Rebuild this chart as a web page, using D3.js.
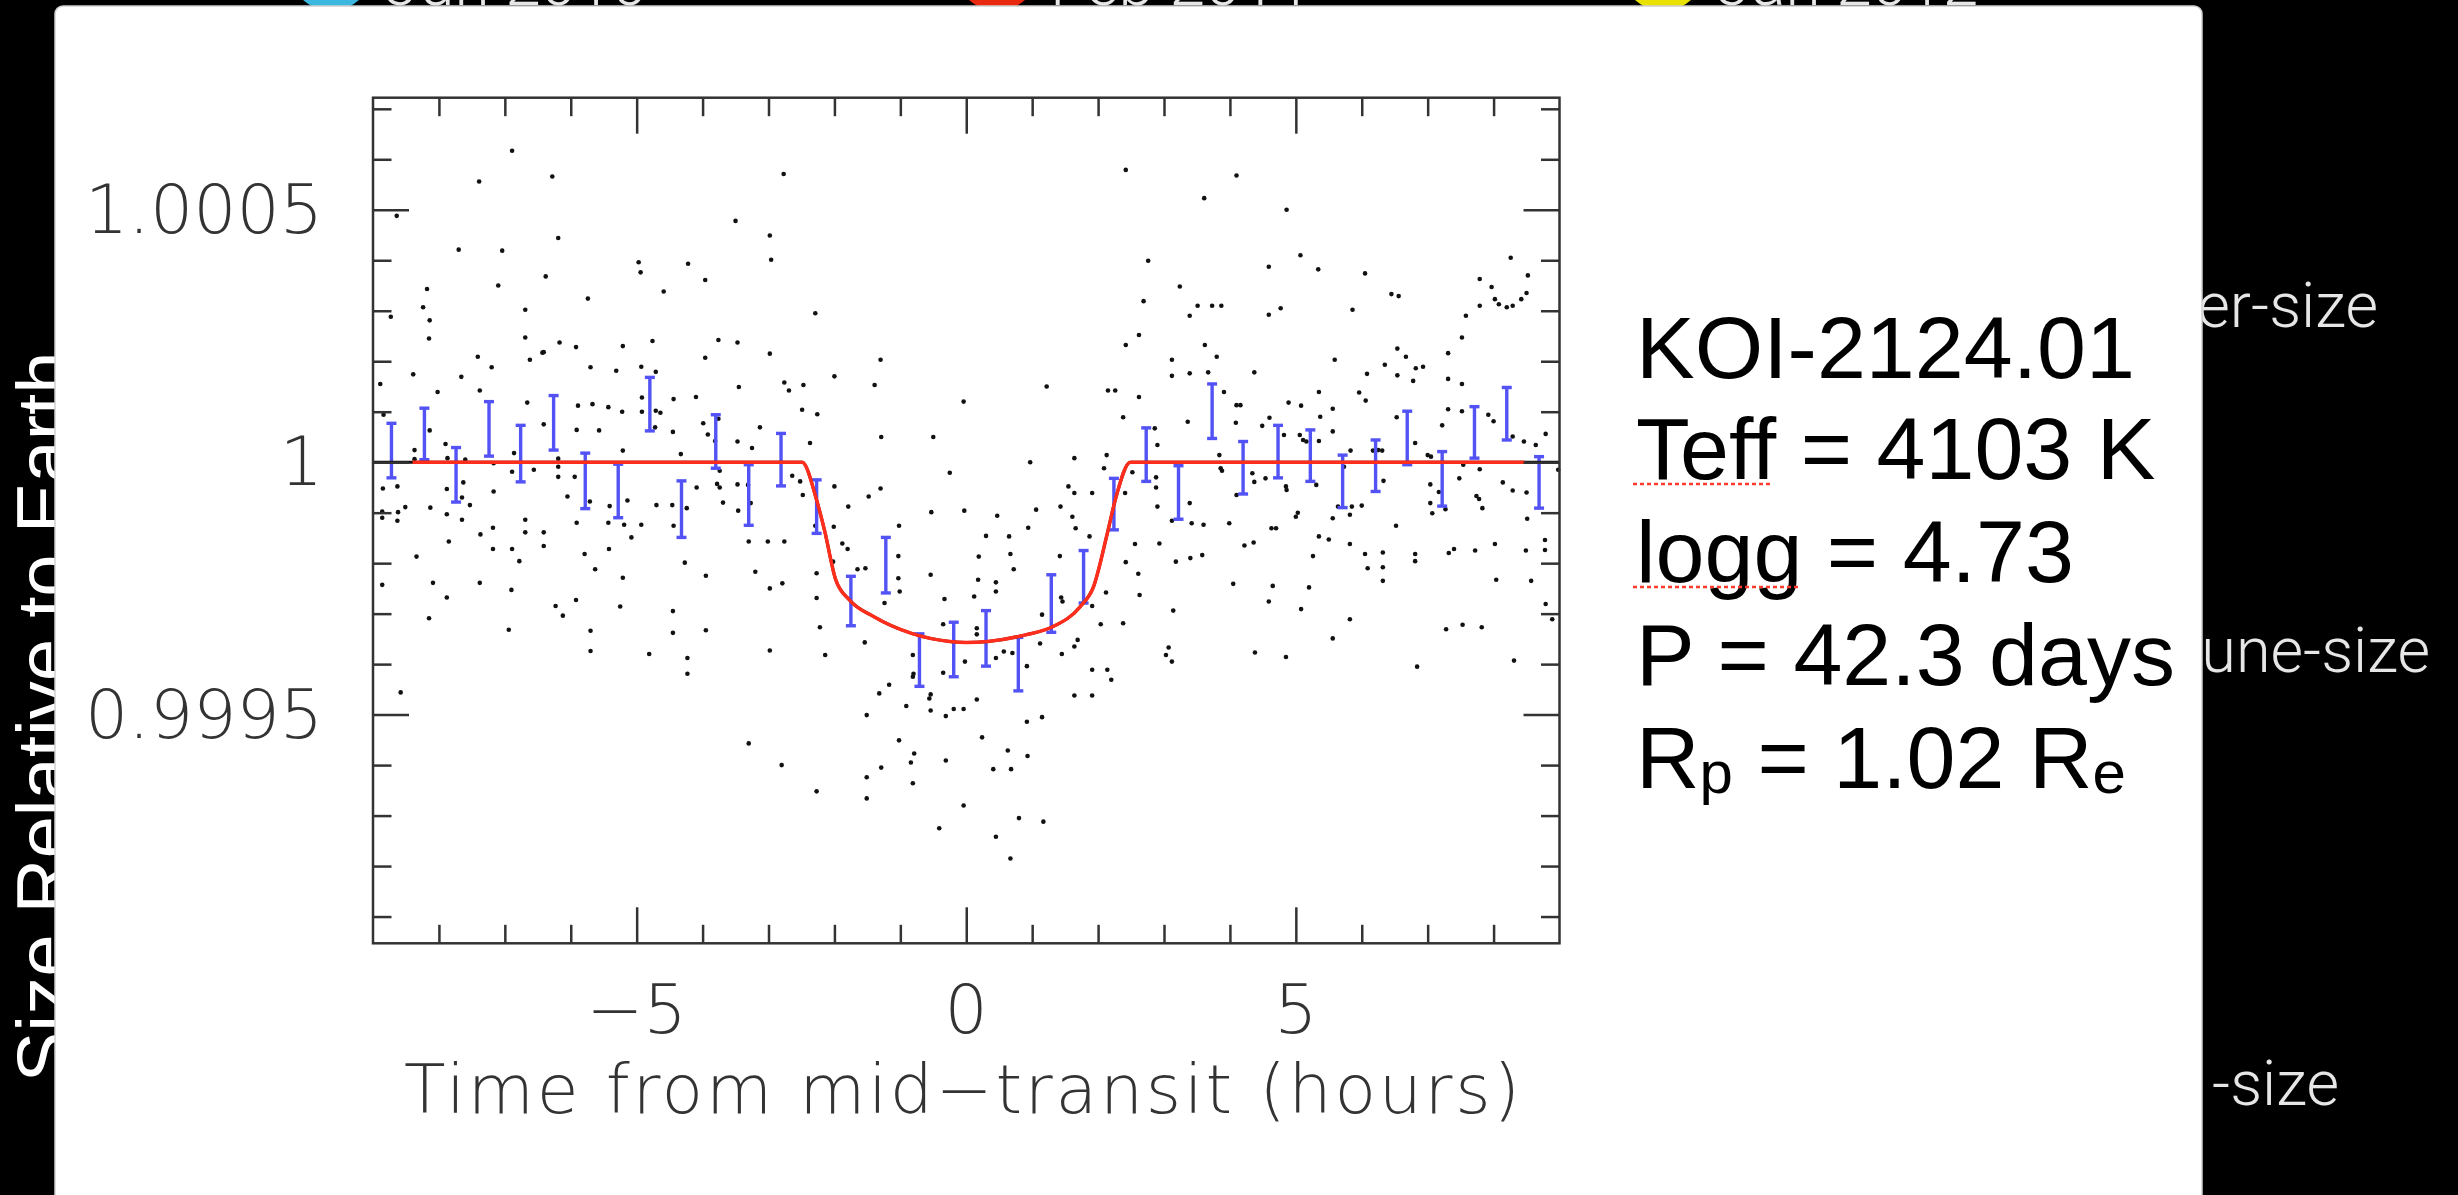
<!DOCTYPE html>
<meta charset="utf-8">
<head>
    <script type="text/javascript" src="https://cdn.jsdelivr.net/npm/d3@7"></script>
    <style>
        body { margin: 0; background: #000; }
        svg { display: block; }
        .tick-label { font-family: "DejaVu Sans"; font-weight: 200; font-size: 68px; fill: #333; }
        .info { font-family: "Liberation Sans", Arial, sans-serif; font-size: 88px; fill: #000; }
        .slide { font-family: "Liberation Sans", Arial, sans-serif; fill: #fff; }
        .slide-light { font-family: Roboto, "Liberation Sans", sans-serif; font-weight: 300; fill: #e6e6e6; }
    </style>
</head>
<body>
<div id="chart"></div>
<script>

    // binned light curve: time (hours), flux offset from 1 (ppm), half error bar (ppm)
    let binTime = [-8.72, -8.22, -7.74, -7.24, -6.76, -6.26, -5.78, -5.28, -4.80, -4.32, -3.80, -3.30,
        -2.81, -2.27, -1.75, -1.22, -0.71, -0.19, 0.30, 0.79, 1.29, 1.78, 2.24, 2.73,
        3.22, 3.73, 4.20, 4.73, 5.22, 5.71, 6.21, 6.69, 7.22, 7.71, 8.20, 8.69]
    let binPpm = [23, 56, -25, 66, 17, 78, -37, -57, 115, -93, 41, -65,
        5, -88, -275, -204, -392, -371, -349, -400, -280, -227, -83, 15,
        -60, 101, -11, 21, 13, -38, -7, 48, -33, 59, 96, -40]
    let binErr = [54, 51, 54, 54, 56, 54, 55, 53, 53, 56, 53, 60,
        52, 53, 49, 55, 52, 54, 55, 53, 57, 52, 51, 53,
        53, 54, 52, 52, 51, 52, 51, 53, 54, 51, 52, 51]

    // transit model (hours, ppm)
    let modelTime = [-9, -2.49, -2.27, -2.15, -1.98, -1.77, -1.40, -0.83, -0.25, 0, 0.33, 0.90, 1.31, 1.73, 1.93, 2.14, 2.26, 2.49, 9]
    let modelPpm = [0, 0, -75, -135, -233, -273, -306, -339, -355, -357, -355, -342, -326, -286, -247, -141, -75, 0, 0]
    let modelRedRange = [-8.4, 8.47]

    // unbinned photometry [hours, ppm]
    let rawPoints = [
        [-8.64,488],[-6.89,617],[-7.39,556],[-6.28,566],[-7.70,421],[-7.04,419],[-6.19,444],[-4.97,396],[-4.94,376],[-4.22,393],
        [-8.18,343],[-7.10,350],[-6.38,368],[-5.74,324],[-4.59,338],[-8.24,307],[-8.73,288],[-8.14,281],[-6.69,302],[-8.15,245],
        [-6.69,247],[-6.17,237],[-5.92,228],[-5.21,230],[-4.76,240],[-7.41,209],[-7.20,188],[-6.62,203],[-6.43,217],[-6.41,218],
        [-5.70,188],[-5.31,181],[-4.93,189],[-4.71,179],[-8.89,155],[-8.39,174],[-7.66,169],[-8.02,139],[-7.38,142],[-6.66,118],
        [-5.89,112],[-5.67,115],[-5.43,109],[-4.44,125],[-4.10,129],[-5.22,100],[-4.92,128],[-4.92,100],[-4.71,102],[-4.64,98],
        [-4.72,69],[-8.84,94],[-6.41,75],[-5.91,64],[-5.57,63],[-4.45,60],[-8.14,63],[-8.37,24],[-7.90,36],[-8.37,6],
        [-7.87,8],[-7.60,5],[-7.17,-2],[-6.86,18],[-6.19,7],[-6.19,-9],[-5.21,23],[-4.33,16],[-6.56,-15],[-6.89,-19],
        [-8.85,-52],[-8.63,-48],[-8.63,-116],[-8.51,-89],[-8.86,-98],[-8.86,-110],[-8.62,-99],[-8.13,-90],[-7.88,-53],[-7.63,-40],
        [-7.65,-70],[-7.53,-85],[-7.88,-103],[-7.65,-114],[-7.17,-58],[-6.19,-29],[-5.94,-29],[-6.05,-68],[-5.71,-78],[-5.41,-87],
        [-5.14,-76],[-4.70,-85],[-4.46,-85],[-4.24,-91],[-4.09,-50],[-5.91,-120],[-5.43,-120],[-5.19,-124],[-4.93,-124],[-4.44,-126],
        [-5.08,-149],[-6.69,-114],[-6.69,-139],[-6.41,-139],[-7.18,-130],[-7.37,-143],[-7.85,-157],[-6.89,-172],[-7.18,-172],[-6.41,-166],
        [-5.42,-172],
        [-8.34,-187],[-8.86,-243],[-8.09,-239],[-8.15,-309],[-7.88,-268],[-7.38,-239],[-6.90,-253],[-6.94,-332],[-6.78,-196],[-5.79,-182],
        [-5.63,-212],[-5.21,-229],[-6.23,-285],[-6.12,-304],[-5.92,-273],[-5.25,-286],[-5.70,-334],[-5.70,-374],[-4.81,-380],[-4.45,-295],
        [-4.45,-338],[-4.23,-388],[-4.23,-419],[-4.27,-199],[-8.58,-456],[-3.95,-225],[-3.95,-333],
        [-2.77,571],[-3.50,478],[-2.98,449],[-2.96,401],[-3.96,361],[-3.96,207],[-3.76,242],[-3.47,237],[-2.98,215],[-2.29,295],
        [-1.30,203],[-2.00,170],[-1.39,153],[-3.45,149],[-2.76,158],[-2.69,142],[-2.47,153],[-0.04,120],[-2.49,104],[-2.26,95],
        [-3.13,69],[-2.37,38],[-1.29,50],[-0.50,50],[-0.25,-21],[-3.47,41],[-3.25,28],[-3.76,86],[-3.99,77],[-3.92,55],
        [-3.81,42],[-3.74,-17],[-3.78,-43],[-3.74,-50],[-3.47,-44],[-3.31,-45],[-3.27,-81],[-3.46,-96],[-3.69,-80],[-2.64,-27],
        [-2.52,-38],[-2.48,-65],[-2.00,-48],[-1.30,-52],[-1.48,-68],[-1.79,-88],[-1.02,-126],[-0.53,-99],[-0.03,-96],[0.47,-106],
        [-2.01,-128],[-2.29,-126],
        [2.42,579],[4.10,568],[3.61,523],[4.86,500],[2.76,399],[5.07,410],[4.59,387],[5.34,382],[6.05,374],[8.26,405],
        [8.52,370],[7.79,363],[7.97,347],[8.02,323],[8.08,313],[8.20,307],[8.29,310],[8.42,323],[8.50,335],[7.79,310],
        [7.58,290],[7.52,247],[6.54,225],[6.67,209],[6.82,186],[6.93,189],[6.78,161],[7.31,216],[7.31,165],[7.52,155],
        [6.45,333],[6.56,329],[5.86,302],[4.77,305],[4.59,292],[3.51,310],[3.73,310],[3.87,310],[3.39,290],[3.24,348],
        [2.69,319],[2.62,252],[2.42,232],[3.12,203],[3.12,171],[3.39,176],[3.67,178],[3.62,232],[3.80,209],[4.37,178],
        [5.59,203],[6.08,175],[6.35,193],[6.54,172],[1.22,150],[2.15,142],[2.26,142],[2.62,129],[3.91,139],[4.89,118],
        [5.08,112],[5.35,139],[5.96,138],[6.06,122],[5.56,106],[5.37,90],[4.60,88],[4.10,113],[4.16,113],[4.09,78],
        [3.36,80],[2.38,89],[4.49,72],[4.82,54],[5.06,54],[5.11,44],[5.16,41],[5.35,42],[5.56,61],[5.83,23],
        [6.25,24],[6.31,23],[6.53,89],[6.81,38],[7.22,73],[7.31,105],[7.52,101],[7.92,94],[8.00,81],[8.46,41],
        [8.64,34],[8.79,56],[8.29,51],[7.00,14],[7.05,11],[7.54,-5],[7.79,-14],[7.48,-32],[8.14,-40],[8.29,-56],
        [8.50,-60],[7.78,-73],[7.83,-91],[8.51,-112],[8.98,-15],[0.97,0],[1.64,8],[2.13,14],[2.09,-12],[2.52,-20],
        [2.41,-61],[2.88,-30],[2.88,-50],[2.90,-88],[2.90,34],[2.86,67],[3.39,-81],[1.55,-48],[1.64,-61],[1.91,-61],
        [1.43,-88],[1.06,-94],[1.61,-108],[3.86,-12],[3.88,-17],[3.84,14],[4.10,-65],[4.34,-22],[4.54,-32],[4.37,-39],
        [4.85,-48],[4.86,-55],[5.31,-45],[5.73,-9],[5.64,-88],[5.85,-88],[5.82,-104],[5.56,-111],[6.00,-86],[6.33,-37],
        [6.52,-126],[6.17,23],[7.04,-44],[7.04,-81],[7.07,-101],[7.17,-59],[7.27,-93],[7.74,-67],[5.00,-108],[5.03,-100],
        [3.99,-121],[3.60,-124],[3.42,-121],[3.12,-116],[4.63,-131],[4.70,-131],[0.94,-130],[1.66,-131],
        [-3.30,-157],[-3.01,-157],[-2.76,-157],[-3.20,-217],[-2.98,-250],[-2.79,-240],[-2.98,-373],[-3.30,-557],[-2.80,-600],[-2.27,-652],
        [-2.14,-382],[-2.22,-327],[-2.27,-269],[-2.27,-220],[-2.02,-197],[-1.88,-161],[-1.80,-172],[-1.65,-212],[-1.53,-210],[-1.54,-357],
        [-1.24,-279],[-1.03,-186],[-1.03,-230],[-1.01,-256],[-1.32,-458],[-1.17,-441],[-1.51,-501],[-1.02,-551],[-0.79,-577],[-0.84,-595],
        [-0.81,-636],[-1.29,-605],[-1.51,-624],[-1.51,-666],[-0.54,-460],[-0.56,-468],[-0.91,-483],[-0.54,-492],[-0.31,-503],[-0.19,-489],
        [-0.04,-489],[-0.33,-271],[-0.35,-321],[-0.35,-417],[-0.81,-382],[-0.80,-419],[-0.81,-425],[-0.54,-223],[0.12,-266],[0.19,-187],
        [0.18,-233],[0.45,-238],[0.45,-256],[0.30,-146],[0.65,-147],[0.67,-182],[0.72,-212],[0.16,-329],[0.16,-341],[-0.02,-395],
        [0.45,-388],[0.57,-375],[0.70,-378],[0.92,-404],[1.12,-359],[1.15,-302],[1.44,-268],[1.46,-276],[1.42,-186],[1.45,-380],
        [1.64,-365],[1.69,-352],[1.91,-411],[2.14,-411],[2.20,-431],[1.64,-462],[1.91,-462],[1.15,-505],[0.92,-514],[0.16,-470],
        [0.24,-545],[0.63,-571],[0.93,-582],[-0.31,-591],[0.41,-608],[0.68,-608],[-0.04,-680],[-0.41,-725],[0.45,-742],[0.80,-705],
        [1.17,-712],[0.67,-785],[1.87,-147],[1.91,-285],[2.04,-321],[2.12,-258],[2.38,-319],[2.42,-198],[2.56,-162],[2.61,-221],
        [2.63,-263],[2.93,-161],[3.18,-197],[3.40,-190],[3.58,-184],[3.14,-294],[3.07,-367],[3.03,-382],[3.12,-395],[4.05,-241],
        [4.65,-245],[4.59,-276],[4.38,-377],[4.85,-386],[5.08,-291],[5.20,-248],[5.56,-349],[5.82,-311],[5.26,-186],[5.82,-162],
        [6.05,-182],[6.09,-210],[6.32,-179],[6.32,-208],[6.32,-235],[6.81,-182],[6.81,-196],[6.84,-405],[7.28,-331],[7.53,-322],
        [7.82,-327],[7.40,-172],[7.32,-180],[7.72,-175],[8.02,-162],[8.04,-233],[8.31,-393],[8.49,-175],[8.57,-235],[8.78,-154],
        [8.78,-174],[8.79,-281],[8.89,-311],[4.22,-165],[4.36,-159],[5.35,-147],[5.50,-153]
    ]

    // axes
    let xDomain = [-9, 9]
    let yDomain = [0.999047, 1.000722]
    let xMajor = [-5, 0, 5]
    let xMajorLabels = ["\u22125", "0", "5"]
    let xMinor = [-8, -7, -6, -4, -3, -2, -1, 1, 2, 3, 4, 6, 7, 8]
    let yMajor = [0.9995, 1, 1.0005]
    let yMajorLabels = ["0.9995", "1", "1.0005"]
    let yMinor = [0.9991, 0.9992, 0.9993, 0.9994, 0.9996, 0.9997, 0.9998, 0.9999,
        1.0001, 1.0002, 1.0003, 1.0004, 1.0006, 1.0007]
    let xTitle = "Time from mid\u2212transit (hours)"

    // text block (segments: [text, subscript?])
    let infoLines = [
        [["KOI-2124.01", false]],
        [["Teff = 4103 K", false]],
        [["logg = 4.73", false]],
        [["P = 42.3 days", false]],
        [["R", false], ["p", true], [" = 1.02 R", false], ["e", true]]
    ]
    let flaggedWords = ["Teff", "logg"]

    // slide behind the plot (only the parts that peek out)
    let legendYears = ["Jun 2010", "Feb 2011", "Jan 2012"]
    let legendColors = ["#3cb8e0", "#e8280f", "#e9e100"]
    let sizeLabels = ["er-size", "une-size", "-size"]
    let slideYTitle = "Size Relative to Earth"

    let svg_width = 2458
    let svg_height = 1195
    let plot = {left: 373, right: 1559.5, top: 97.7, bottom: 943.3}

    let svg = d3.select("#chart")
        .append("svg")
        .attr("width", svg_width)
        .attr("height", svg_height)

    svg.append("rect")
        .attr("width", svg_width)
        .attr("height", svg_height)
        .attr("fill", "#000")

    // ---- slide background (mostly hidden by the pasted panel)
    let legendX = [331, 997, 1663]
    svg.selectAll(".legend-dot")
        .data(legendColors)
        .enter()
        .append("circle")
        .attr("cx", (d, i) => legendX[i])
        .attr("cy", -30)
        .attr("r", 41)
        .attr("fill", d => d)

    svg.selectAll(".legend-text")
        .data(legendYears)
        .enter()
        .append("text")
        .attr("class", "slide-light")
        .attr("x", (d, i) => legendX[i] + 53)
        .attr("y", 5)
        .attr("font-size", 64)
        .text(d => d)

    svg.append("text")
        .attr("class", "slide")
        .attr("transform", "translate(70,717) rotate(-90)")
        .attr("text-anchor", "middle")
        .attr("font-size", 76)
        .text(slideYTitle)

    let sizeEnd = [2378, 2430, 2339]
    let sizeBase = [327, 672, 1105]
    svg.selectAll(".size-label")
        .data(sizeLabels)
        .enter()
        .append("text")
        .attr("class", "slide-light")
        .attr("x", (d, i) => sizeEnd[i])
        .attr("y", (d, i) => sizeBase[i])
        .attr("text-anchor", "end")
        .attr("font-size", 63)
        .attr("fill", "#fff")
        .text(d => d)

    // white panel
    svg.append("rect")
        .attr("x", 55)
        .attr("y", 6)
        .attr("width", 2147)
        .attr("height", svg_height + 20)
        .attr("rx", 8)
        .attr("fill", "#fff")
        .attr("stroke", "#cfcfcf")
        .attr("stroke-width", 1.5)

    // ---- light curve
    let x = d3.scaleLinear().domain(xDomain).range([plot.left, plot.right])
    let y = d3.scaleLinear().domain(yDomain).range([plot.bottom, plot.top])
    let flux = ppm => 1 + ppm * 1e-6

    let g = svg.append("g")

    g.append("g")
        .selectAll("circle")
        .data(rawPoints)
        .enter()
        .append("circle")
        .attr("cx", d => x(d[0]))
        .attr("cy", d => y(flux(d[1])))
        .attr("r", 2.3)
        .attr("fill", "#111")

    let bars = g.append("g")
        .attr("stroke", "#5353f5")
        .attr("stroke-width", 3.4)
    binTime.forEach(function (t, i) {
        let cx = x(t)
        let y1 = y(flux(binPpm[i] + binErr[i]))
        let y2 = y(flux(binPpm[i] - binErr[i]))
        bars.append("line").attr("x1", cx).attr("x2", cx).attr("y1", y1).attr("y2", y2)
        bars.append("line").attr("x1", cx - 5).attr("x2", cx + 5).attr("y1", y1).attr("y2", y1)
        bars.append("line").attr("x1", cx - 5).attr("x2", cx + 5).attr("y1", y2).attr("y2", y2)
    })

    let model = d3.line()
        .x((d, i) => x(modelTime[i]))
        .y(d => y(flux(d)))
        .curve(d3.curveMonotoneX)

    g.append("path")
        .attr("d", model(modelPpm))
        .attr("fill", "none")
        .attr("stroke", "#111")
        .attr("stroke-width", 3)

    svg.append("clipPath")
        .attr("id", "redclip")
        .append("rect")
        .attr("x", x(modelRedRange[0]))
        .attr("width", x(modelRedRange[1]) - x(modelRedRange[0]))
        .attr("y", plot.top)
        .attr("height", plot.bottom - plot.top)

    g.append("path")
        .attr("d", model(modelPpm))
        .attr("clip-path", "url(#redclip)")
        .attr("fill", "none")
        .attr("stroke", "#ff2e1c")
        .attr("stroke-width", 3.5)

    // frame + inward ticks on all four sides
    function tickStyle(sel) {
        sel.select(".domain").remove()
        sel.selectAll(".tick line").attr("stroke", "#333").attr("stroke-width", 2.5)
    }
    let axes = [
        [d3.axisBottom(x), "translate(0," + plot.bottom + ")", xMinor, xMajor],
        [d3.axisTop(x), "translate(0," + plot.top + ")", xMinor, xMajor],
        [d3.axisLeft(y), "translate(" + plot.left + ",0)", yMinor, yMajor],
        [d3.axisRight(y), "translate(" + plot.right + ",0)", yMinor, yMajor]
    ]
    axes.forEach(function (a) {
        g.append("g").attr("transform", a[1])
            .call(a[0].tickValues(a[2]).tickSize(-18.5).tickFormat(""))
            .call(tickStyle)
        g.append("g").attr("transform", a[1])
            .call(a[0].tickValues(a[3]).tickSize(-36).tickFormat(""))
            .call(tickStyle)
    })

    g.append("rect")
        .attr("x", plot.left)
        .attr("y", plot.top)
        .attr("width", plot.right - plot.left)
        .attr("height", plot.bottom - plot.top)
        .attr("fill", "none")
        .attr("stroke", "#333")
        .attr("stroke-width", 2.5)

    g.selectAll(".ylab")
        .data(yMajor)
        .enter()
        .append("text")
        .attr("class", "tick-label")
        .attr("x", plot.left - 50)
        .attr("y", d => y(d) + 23)
        .attr("text-anchor", "end")
        .text((d, i) => yMajorLabels[i])

    g.selectAll(".xlab")
        .data(xMajor)
        .enter()
        .append("text")
        .attr("class", "tick-label")
        .attr("x", d => x(d))
        .attr("y", 1033)
        .attr("text-anchor", "middle")
        .text((d, i) => xMajorLabels[i])

    g.append("text")
        .attr("class", "tick-label")
        .attr("x", 962)
        .attr("y", 1113)
        .attr("text-anchor", "middle")
        .attr("textLength", 1116)
        .attr("lengthAdjust", "spacing")
        .text(xTitle)

    // ---- parameter text block
    let infoX = 1636
    let infoBase = [378, 479, 582, 685, 788]
    infoLines.forEach(function (segs, i) {
        let t = svg.append("text")
            .attr("class", "info")
            .attr("x", infoX)
            .attr("y", infoBase[i])
        segs.forEach(function (s) {
            let ts = t.append("tspan").text(s[0])
            if (s[1]) {
                ts.attr("font-size", 60).attr("dy", 5)
            } else if (ts.node().previousSibling) {
                ts.attr("dy", -5)
            }
        })
        let word = segs[0][0].split(" ")[0]
        if (flaggedWords.indexOf(word) >= 0) {
            let w = t.node().getSubStringLength(0, word.length)
            svg.append("line")
                .attr("x1", infoX - 3)
                .attr("x2", infoX + w - 4)
                .attr("y1", infoBase[i] + 5)
                .attr("y2", infoBase[i] + 5)
                .attr("stroke", "#ff3b2f")
                .attr("stroke-width", 2.5)
                .attr("stroke-dasharray", "4,3")
        }
    })

</script>
</body>
